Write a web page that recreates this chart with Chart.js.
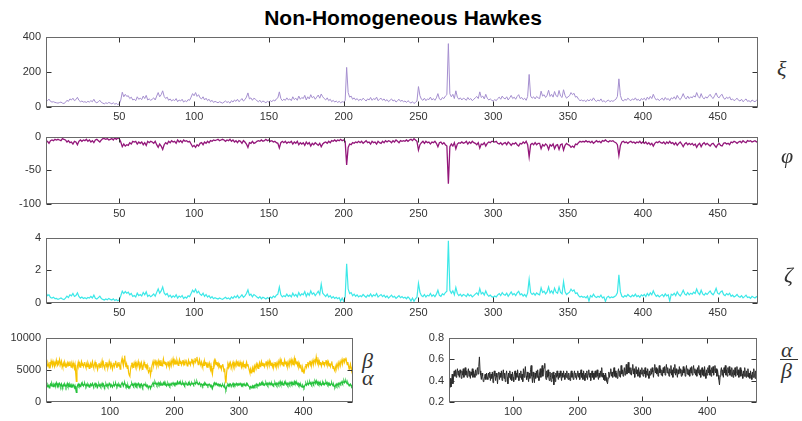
<!DOCTYPE html>
<html>
<head>
<meta charset="utf-8">
<script src="https://cdn.jsdelivr.net/npm/chart.js@4.4.1/dist/chart.umd.min.js"></script>
<style>
  html, body { margin: 0; padding: 0; background: #fff; }
  #page { position: relative; width: 802px; height: 421px; overflow: hidden; font-family: "Liberation Sans", Arial, sans-serif; }
  canvas { position: absolute; }
  .title { position: absolute; left: 0; top: 7px; width: 806px; text-align: center; font-weight: bold; font-size: 21px; line-height: 21px; color: #000; }
  .sym { position: absolute; font-family: "Liberation Serif", "Times New Roman", serif; font-style: italic; font-size: 22px; line-height: 22px; color: #333; }
  .bar { position: absolute; height: 1px; background: #333; }
</style>
</head>
<body>
<div id="page">
  <div class="title">Non-Homogeneous Hawkes</div>
  <canvas id="cXi"></canvas>
  <canvas id="cPhi"></canvas>
  <canvas id="cZeta"></canvas>
  <canvas id="cAB"></canvas>
  <canvas id="cRatio"></canvas>
  <div class="sym" style="left:777px;top:58px">ξ</div>
  <div class="sym" style="left:781px;top:145px">φ</div>
  <div class="sym" style="left:784px;top:264px">ζ</div>
  <div class="sym" style="left:362px;top:350px">β</div>
  <div class="sym" style="left:362px;top:367px">α</div>
  <div class="sym" style="left:781px;top:339px">α</div>
  <div class="bar" style="left:780px;top:359px;width:18px"></div>
  <div class="sym" style="left:781px;top:360px">β</div>
</div>
<script>
'use strict';
// ── Séries (une valeur par pas de temps, t = 1..477) ─────────────────────────

const xi = [
  42, 36, 45, 32, 28, 30, 26, 24, 22, 25, 28, 22, 20, 26, 38, 32, 46, 40, 50, 36,
  42, 55, 38, 30, 34, 28, 30, 26, 32, 28, 36, 30, 44, 28, 24, 30, 38, 26, 22, 18,
  24, 20, 26, 22, 18, 24, 16, 20, 14, 18, 40, 84, 58, 72, 60, 64, 48, 56, 40, 44,
  36, 58, 44, 50, 42, 62, 48, 66, 40, 46, 38, 44, 52, 40, 62, 82, 58, 70, 92, 60,
  48, 56, 38, 46, 34, 42, 36, 48, 30, 40, 34, 44, 28, 36, 30, 42, 38, 56, 76, 64,
  82, 60, 70, 52, 46, 58, 40, 50, 36, 44, 30, 38, 26, 32, 28, 24, 30, 26, 22, 28,
  34, 26, 30, 22, 36, 28, 40, 32, 44, 30, 38, 48, 34, 42, 56, 80, 46, 52, 38, 50,
  44, 36, 30, 38, 26, 34, 30, 24, 32, 28, 36, 30, 40, 34, 46, 52, 86, 48, 36, 44,
  38, 52, 40, 46, 36, 58, 42, 50, 38, 62, 44, 54, 48, 66, 40, 58, 46, 70, 52, 60,
  44, 56, 68, 50, 74, 58, 48, 40, 52, 36, 44, 30, 38, 28, 34, 26, 32, 24, 30, 28,
  36, 225, 82, 56, 62, 44, 52, 40, 48, 36, 44, 38, 50, 42, 34, 46, 40, 54, 38, 48,
  42, 56, 36, 44, 50, 38, 46, 34, 42, 30, 38, 46, 34, 40, 28, 36, 44, 32, 38, 30,
  34, 26, 36, 28, 22, 30, 20, 26, 34, 116, 64, 44, 38, 50, 36, 46, 42, 56, 40, 48,
  38, 52, 76, 46, 40, 54, 48, 62, 70, 360, 75, 58, 72, 48, 92, 56, 44, 52, 40, 50,
  46, 38, 54, 42, 48, 36, 44, 52, 60, 48, 86, 54, 62, 46, 72, 50, 40, 46, 38, 34,
  42, 36, 48, 56, 44, 62, 50, 46, 58, 40, 52, 66, 48, 56, 44, 60, 70, 48, 54, 42,
  50, 38, 60, 185, 62, 50, 58, 46, 60, 52, 48, 90, 62, 70, 54, 66, 95, 60, 72, 56,
  88, 64, 58, 94, 62, 54, 98, 66, 50, 58, 64, 82, 70, 78, 56, 60, 44, 36, 40, 34,
  38, 30, 42, 34, 44, 36, 52, 38, 32, 40, 34, 46, 30, 36, 28, 34, 40, 30, 36, 32,
  38, 44, 60, 160, 66, 40, 34, 44, 38, 50, 42, 36, 46, 40, 52, 38, 44, 34, 48, 42,
  50, 38, 56, 44, 60, 48, 72, 52, 40, 46, 36, 44, 50, 38, 54, 42, 48, 36, 52, 46,
  58, 44, 66, 50, 42, 56, 76, 54, 46, 62, 48, 58, 52, 64, 56, 82, 60, 50, 76, 54,
  46, 58, 50, 62, 72, 56, 48, 64, 80, 58, 52, 66, 72, 50, 44, 56, 48, 58, 40, 46,
  36, 42, 50, 38, 34, 44, 30, 38, 46, 32, 36, 28, 40, 34, 30, 38, 32
];

const phi = [
  -8, -7, -10, -6, -5, -6, -4, -5, -4, -5, -6, -3, -4, -5, -8, -6, -9, -8, -11, -7,
  -8, -12, -7, -5, -7, -5, -6, -4, -7, -5, -8, -6, -9, -5, -4, -6, -8, -5, -3, -3,
  -4, -3, -5, -4, -3, -5, -2, -4, -2, -3, -8, -15, -11, -14, -12, -13, -9, -11, -7, -8,
  -7, -11, -8, -10, -8, -12, -9, -13, -7, -9, -7, -8, -10, -7, -12, -16, -11, -14, -19, -12,
  -9, -11, -7, -9, -6, -8, -7, -10, -5, -8, -6, -9, -5, -7, -6, -8, -7, -11, -15, -13,
  -16, -12, -14, -10, -9, -12, -8, -10, -7, -9, -6, -7, -5, -6, -5, -4, -6, -5, -4, -5,
  -7, -5, -6, -4, -7, -5, -8, -6, -9, -6, -7, -10, -6, -8, -11, -16, -9, -10, -7, -10,
  -9, -7, -6, -7, -5, -7, -6, -4, -6, -5, -7, -6, -8, -7, -9, -10, -17, -9, -7, -9,
  -7, -10, -8, -9, -7, -11, -8, -10, -7, -12, -9, -11, -9, -13, -8, -11, -9, -14, -10, -12,
  -9, -11, -13, -10, -15, -11, -9, -8, -10, -7, -9, -6, -7, -5, -7, -5, -6, -4, -6, -5,
  -7, -42, -16, -11, -12, -9, -10, -8, -9, -7, -9, -7, -10, -8, -6, -9, -8, -11, -7, -9,
  -8, -11, -7, -9, -10, -7, -9, -6, -8, -6, -7, -9, -6, -8, -5, -7, -9, -6, -7, -6,
  -7, -5, -7, -5, -4, -6, -3, -5, -7, -20, -12, -9, -7, -10, -7, -9, -8, -11, -8, -9,
  -7, -10, -15, -9, -8, -11, -9, -12, -14, -70, -15, -11, -14, -9, -18, -11, -9, -10, -8, -10,
  -9, -7, -11, -8, -10, -7, -9, -10, -12, -9, -17, -11, -12, -9, -14, -10, -8, -9, -7, -7,
  -8, -7, -10, -11, -9, -12, -10, -9, -12, -8, -10, -13, -10, -11, -9, -12, -14, -10, -11, -8,
  -10, -7, -12, -30, -12, -10, -12, -9, -12, -10, -10, -18, -12, -14, -11, -13, -19, -12, -14, -11,
  -18, -13, -12, -19, -12, -11, -20, -13, -10, -12, -13, -16, -14, -16, -11, -12, -9, -7, -8, -7,
  -8, -6, -8, -7, -9, -7, -10, -8, -6, -8, -7, -9, -6, -7, -5, -7, -8, -6, -7, -6,
  -8, -9, -12, -28, -13, -8, -7, -9, -8, -10, -8, -7, -9, -8, -10, -8, -9, -7, -10, -8,
  -10, -8, -11, -9, -12, -10, -14, -10, -8, -9, -7, -9, -10, -8, -11, -8, -10, -7, -10, -9,
  -12, -9, -13, -10, -8, -11, -15, -11, -9, -12, -10, -12, -10, -13, -11, -16, -12, -10, -15, -11,
  -9, -12, -10, -12, -14, -11, -10, -13, -16, -12, -10, -13, -14, -10, -9, -11, -10, -12, -8, -9,
  -7, -8, -10, -8, -7, -9, -6, -8, -9, -6, -7, -6, -8, -7, -6, -8, -6
];

const zeta = [
  .62, .45, .50, .34, .30, .35, .27, .28, .22, .26, .31, .24, .21, .30, .42, .33, .50, .44, .58, .40,
  .46, .62, .40, .30, .36, .28, .33, .26, .34, .30, .40, .31, .48, .29, .24, .33, .42, .27, .22, .18,
  .25, .20, .28, .22, .18, .26, .15, .21, .14, .19, .44, .72, .58, .70, .60, .66, .50, .58, .40, .46,
  .37, .60, .45, .52, .43, .64, .50, .68, .40, .48, .38, .46, .55, .41, .65, .86, .60, .74, .98, .62,
  .50, .58, .38, .48, .34, .44, .36, .50, .30, .42, .35, .46, .28, .37, .30, .44, .39, .58, .78, .66,
  .84, .62, .72, .54, .47, .60, .40, .52, .36, .45, .30, .39, .26, .33, .28, .24, .31, .26, .22, .29,
  .35, .26, .31, .22, .37, .28, .42, .33, .46, .30, .39, .50, .35, .44, .58, .80, .47, .54, .38, .52,
  .45, .37, .30, .39, .26, .35, .30, .24, .33, .28, .37, .30, .42, .35, .48, .54, .98, .50, .37, .45,
  .39, .54, .41, .48, .37, .60, .43, .52, .38, .64, .45, .56, .50, .70, .41, .60, .47, .74, .54, .62,
  .45, .58, .72, .52, 1.15, .60, .50, .40, .54, .36, .45, .30, .39, .28, .35, .26, .33, .12, .30, .10,
  .37, 2.40, .86, .58, .64, .45, .54, .41, .50, .37, .45, .39, .52, .43, .35, .48, .41, .56, .39, .50,
  .43, .58, .37, .45, .52, .39, .48, .35, .43, .30, .39, .48, .35, .41, .28, .37, .45, .32, .39, .30,
  .35, .26, .37, .28, .12, .30, .10, .26, .35, 1.20, .66, .45, .39, .52, .37, .48, .43, .58, .41, .50,
  .39, .54, .78, .47, .41, .56, .50, .64, .72, 3.80, .78, .60, .74, .50, .95, .58, .45, .54, .41, .52,
  .48, .39, .56, .43, .50, .37, .45, .54, .62, .50, .88, .56, .64, .48, .74, .52, .41, .48, .39, .35,
  .43, .37, .50, .58, .45, .64, .52, .48, .60, .41, .54, .68, .50, .58, .45, .62, .72, .50, .56, .43,
  .52, .39, .62, 1.45, .64, .52, .60, .48, .62, .54, .50, .93, .64, .72, .56, .68, .98, .62, .74, .58,
  .91, .66, .60, .97, .64, .56, 1.30, .68, .52, .60, .66, .85, .72, .80, .58, .62, .45, .37, .41, .35,
  .39, .31, .43, .12, .45, .37, .54, .39, .33, .41, .35, .48, .31, .37, .10, .35, .41, .31, .37, .33,
  .39, .45, .62, 1.72, .68, .41, .35, .45, .39, .52, .43, .37, .48, .41, .54, .39, .45, .35, .50, .43,
  .52, .39, .58, .45, .62, .50, .74, .54, .41, .48, .37, .45, .52, .39, .56, .43, .50, .12, .54, .48,
  .60, .45, .68, .52, .43, .58, .78, .56, .48, .64, .50, .60, .54, .66, .58, .85, .62, .52, .78, .56,
  .48, .60, .52, .64, .74, .58, .50, .66, .90, .60, .54, .68, .74, .52, .45, .58, .50, .60, .41, .48,
  .37, .43, .52, .39, .35, .45, .31, .39, .48, .33, .37, .29, .41, .35, .31, .39, .33
];

const beta = [
  5400, 5900, 5600, 6100, 5800, 5300, 6200, 5700, 6400, 6000, 5600, 6300, 5900, 5500, 6100, 5800, 6500, 6000, 5700, 6200,
  5900, 6600, 6100, 5700, 6300, 5800, 5400, 6000, 5600, 6200, 5900, 5300, 5800, 6100, 5500, 6000, 5700, 6300, 5800, 5400,
  5900, 5500, 6100, 5600, 5200, 5800, 4600, 3200, 5000, 5700, 6200, 5600, 6000, 5400, 5900, 6300, 5700, 6100, 5500, 5800,
  6200, 5600, 5300, 5900, 5500, 6100, 5800, 5200, 5700, 6000, 5400, 5900, 6300, 5700, 5300, 5800, 6200, 5600, 5900, 5400,
  5000, 5600, 6000, 5500, 5900, 5300, 5800, 6400, 5700, 6100, 5500, 5200, 5800, 6200, 5600, 5900, 5300, 5700, 6300, 5800,
  5400, 6000, 5600, 5100, 5700, 6100, 5500, 5900, 6400, 5800, 5300, 5900, 5600, 6200, 5700, 5100, 5800, 6300, 6800, 6100,
  5600, 6500, 7200, 6000, 5400, 5900, 5200, 5700, 4600, 4200, 4000, 5000, 5600, 6100, 5500, 5900, 5300, 5800, 6200, 5600,
  6000, 5400, 5800, 6300, 5700, 5200, 5900, 5500, 6100, 5600, 5000, 5700, 6200, 5800, 5400, 5900, 5300, 5700, 5000, 4600,
  4900, 5400, 4200, 4800, 5500, 5900, 6300, 5700, 6100, 6600, 5900, 6200, 5600, 6000, 6400, 5800, 6200, 5700, 6500, 6000,
  5600, 6100, 6700, 6000, 6300, 5800, 6200, 5500, 5900, 6300, 5700, 6100, 5500, 5900, 6400, 5800, 6200, 6700, 6000, 6400,
  5800, 6300, 5900, 6500, 6100, 5700, 6200, 6600, 6000, 6400, 5800, 6100, 6500, 5900, 6300, 5700, 6200, 6600, 6000, 5600,
  6100, 6500, 5900, 6300, 5800, 6200, 6700, 6100, 6400, 5900, 6300, 6800, 6200, 6500, 7000, 6300, 5800, 6200, 6600, 6000,
  5700, 6200, 5800, 5400, 6100, 5700, 6300, 5900, 6200, 5600, 5900, 5300, 5800, 6100, 5500, 5000, 5600, 4800, 4300, 5200,
  6100, 6500, 6000, 6400, 5800, 6200, 5700, 6000, 5500, 5800, 5300, 5700, 5100, 5600, 5900, 5400, 4700, 5200, 3600, 2900,
  4500, 5300, 5800, 5400, 6000, 5600, 6100, 5700, 5300, 5900, 6200, 5600, 6000, 5500, 5900, 6300, 5800, 6100, 5600, 6000,
  5700, 6200, 5800, 5400, 6000, 5600, 6100, 5500, 5900, 5300, 5800, 6200, 5600, 5900, 5400, 5000, 4600, 5100, 4500, 4800,
  5300, 4700, 5200, 5600, 5100, 5500, 5900, 5400, 5800, 5200, 5700, 6100, 5500, 5900, 6300, 5700, 6100, 5600, 6000, 5500,
  5900, 6300, 5800, 6200, 5600, 6000, 6400, 5800, 6200, 5700, 6100, 5500, 5900, 5400, 5800, 6200, 5600, 6000, 5500, 5900,
  6300, 5700, 6100, 6600, 6000, 6400, 5800, 6200, 5600, 6000, 6500, 5900, 6300, 5700, 6100, 5500, 5900, 6400, 5800, 6200,
  6600, 6000, 6400, 5800, 6200, 6800, 6100, 6500, 5900, 6300, 5700, 6100, 5500, 5900, 5300, 5800, 5100, 4700, 5300, 4900,
  4400, 5000, 5500, 5900, 5400, 5800, 6200, 5600, 6000, 6400, 5800, 6200, 5700, 6100, 6500, 5900, 6300, 6700, 6100, 7000,
  6400, 6000, 6500, 5900, 6300, 5800, 6200, 5600, 6000, 6400, 5800, 6200, 5700, 6100, 6500, 5900, 6300, 5800, 6200, 5600,
  6000, 5500, 5900, 6300, 5700, 5200, 5600, 5000, 4800, 5400, 5800, 5300, 5700, 6100, 5500, 5900, 6300, 5800, 6200, 6600,
  6000, 6400, 6800, 6200, 6600, 6900, 6300, 5800, 6200, 5600, 5100, 5500, 5900, 5300, 5000, 5400, 5100
];

const alpha = [
  2300, 2600, 2400, 2700, 2500, 2200, 2600, 2800, 2500, 2900, 2600, 2400, 2700, 2500, 2800, 2600, 3000, 2700, 2400, 2800,
  2600, 2900, 2700, 2400, 2800, 2500, 2300, 2700, 2500, 2800, 2600, 2300, 2600, 2900, 2500, 2700, 2400, 2800, 2600, 2300,
  2600, 2400, 2700, 2500, 2200, 2500, 2000, 1500, 2200, 2600, 2800, 2500, 2700, 2400, 2600, 2900, 2600, 2800, 2500, 2700,
  2900, 2600, 2400, 2700, 2500, 2800, 2600, 2300, 2600, 2800, 2500, 2700, 2900, 2600, 2400, 2700, 2900, 2600, 2800, 2500,
  2300, 2600, 2800, 2500, 2700, 2400, 2600, 2900, 2600, 2800, 2500, 2300, 2600, 2800, 2500, 2700, 2400, 2600, 2900, 2700,
  2400, 2700, 2500, 2300, 2600, 2800, 2500, 2700, 2900, 2600, 2400, 2700, 2500, 2800, 2600, 2300, 2600, 2800, 3000, 2700,
  2500, 2800, 3000, 2700, 2400, 2600, 2300, 2600, 2200, 2400, 2300, 2500, 2700, 2900, 2600, 2800, 2500, 2700, 2900, 2600,
  2800, 2500, 2700, 2900, 2600, 2400, 2700, 2500, 2800, 2600, 2300, 2600, 2800, 2700, 2500, 2700, 2400, 2600, 2300, 2200,
  2400, 2600, 2100, 2400, 2600, 2800, 3000, 2700, 2900, 3100, 2800, 2900, 2600, 2800, 3000, 2700, 2900, 2600, 3000, 2800,
  2600, 2800, 3000, 2700, 2900, 2600, 2800, 2500, 2700, 2900, 2600, 2800, 2500, 2700, 2900, 2700, 2800, 3000, 2800, 2900,
  2700, 2900, 2700, 3000, 3200, 2800, 2900, 3100, 2800, 3000, 2700, 2800, 3000, 2700, 2900, 2600, 2800, 3000, 2800, 2600,
  2800, 3000, 2700, 2900, 2600, 2800, 3000, 2800, 2900, 2700, 2900, 3100, 2800, 3000, 3200, 2900, 2700, 2800, 3000, 2800,
  2600, 2800, 2700, 2500, 2800, 2600, 2900, 2700, 2800, 2600, 2700, 2500, 2700, 2800, 2600, 2400, 2600, 2300, 2100, 2500,
  2800, 3000, 2800, 2900, 2700, 2800, 2600, 2800, 2600, 2700, 2500, 2600, 2400, 2600, 2700, 2500, 2300, 2500, 2100, 1900,
  2300, 2600, 2700, 2500, 2800, 2600, 2800, 2600, 2500, 2700, 2900, 2600, 2800, 2600, 2700, 2900, 2700, 2800, 2600, 2800,
  2700, 2900, 2700, 2500, 2800, 2600, 2800, 2600, 2700, 2500, 2700, 2900, 2600, 2700, 2500, 2400, 2200, 2400, 2200, 2300,
  2500, 2200, 2500, 2600, 2400, 2600, 2800, 2500, 2700, 2500, 2700, 2900, 2600, 2800, 3000, 2700, 2900, 2600, 2800, 2600,
  2800, 3000, 2700, 2900, 2600, 2800, 3000, 2800, 2900, 2700, 2900, 2600, 2800, 2600, 2800, 3000, 2700, 2900, 2600, 2800,
  3000, 2700, 2900, 3200, 2800, 3000, 2700, 2900, 2600, 2800, 3100, 2800, 3000, 2700, 2900, 2600, 2800, 3000, 2700, 2900,
  3100, 2800, 3000, 2700, 2900, 3200, 2900, 3100, 2800, 3000, 2700, 2900, 2600, 2800, 2500, 2700, 2400, 2300, 2600, 2400,
  2200, 2500, 2700, 2900, 2600, 2800, 3000, 2700, 2900, 3100, 2800, 3000, 2700, 2900, 3100, 2800, 3000, 3200, 2900, 3300,
  3000, 2800, 3100, 2800, 3000, 2700, 2900, 2600, 2800, 3000, 2700, 2900, 2700, 2900, 3100, 2800, 3000, 2700, 2900, 2600,
  2800, 2600, 2800, 3000, 2700, 2500, 2700, 2400, 2300, 2600, 2800, 2500, 2700, 2900, 2600, 2800, 3000, 2800, 3000, 3200,
  2900, 3100, 3300, 3000, 3200, 3300, 3000, 2800, 3000, 2700, 2500, 2700, 2800, 2600, 2400, 2600, 2500
];

const ratio = [
  .36, .33, .42, .34, .39, .46, .37, .44, .49, .44, .50, .43, .48, .51, .45, .49, .43, .50, .47, .42,
  .49, .45, .51, .43, .48, .52, .45, .49, .43, .48, .51, .44, .49, .42, .48, .45, .51, .43, .49, .46,
  .43, .50, .45, .49, .52, .46, .53, .62, .49, .45, .41, .47, .44, .39, .40, .44, .46, .41, .47, .43,
  .41, .47, .43, .48, .40, .46, .42, .48, .38, .45, .49, .44, .40, .47, .43, .37, .46, .48, .41, .47,
  .43, .49, .40, .46, .50, .42, .47, .39, .45, .49, .43, .37, .47, .43, .49, .41, .46, .40, .48, .43,
  .39, .46, .49, .41, .47, .43, .50, .44, .40, .47, .43, .49, .41, .46, .39, .51, .43, .47, .53, .44,
  .41, .48, .43, .39, .47, .42, .50, .54, .44, .38, .48, .43, .38, .47, .42, .49, .43, .50, .44, .40,
  .47, .51, .43, .49, .54, .44, .50, .52, .56, .45, .41, .49, .43, .50, .44, .40, .48, .43, .39, .47,
  .42, .48, .36, .45, .39, .47, .43, .49, .44, .41, .47, .43, .49, .44, .40, .47, .43, .49, .45, .41,
  .47, .43, .49, .44, .41, .47, .43, .40, .46, .49, .43, .47, .41, .46, .49, .43, .47, .41, .45, .49,
  .43, .47, .41, .46, .50, .43, .47, .41, .49, .45, .40, .47, .43, .49, .41, .46, .50, .43, .47, .40,
  .45, .49, .43, .47, .41, .46, .49, .43, .47, .50, .44, .41, .47, .43, .49, .44, .52, .43, .47, .41,
  .45, .40, .47, .43, .39, .37, .42, .48, .43, .47, .51, .44, .48, .43, .47, .52, .44, .49, .43, .47,
  .42, .48, .51, .44, .49, .43, .54, .46, .50, .44, .48, .52, .45, .49, .55, .46, .50, .57, .47, .52,
  .46, .52, .45, .50, .55, .46, .51, .43, .49, .53, .46, .50, .44, .52, .48, .43, .50, .46, .52, .47,
  .44, .50, .46, .52, .43, .49, .45, .51, .46, .42, .49, .45, .51, .46, .52, .48, .43, .50, .55, .47,
  .52, .46, .51, .44, .50, .54, .47, .51, .45, .50, .44, .52, .47, .53, .45, .51, .55, .47, .52, .48,
  .44, .51, .47, .54, .45, .50, .43, .52, .47, .55, .45, .51, .47, .43, .50, .46, .53, .47, .51, .44,
  .50, .45, .53, .47, .51, .44, .50, .54, .46, .51, .45, .50, .44, .52, .47, .53, .45, .50, .54, .47,
  .51, .45, .50, .44, .52, .47, .54, .45, .50, .43, .48, .52, .45, .50, .44, .53, .47, .42, .50, .45,
  .52, .47, .54, .45, .50, .44, .52, .47, .53, .45, .50, .54, .47, .51, .44, .50, .45, .41, .36, .44,
  .49, .52, .45, .50, .43, .52, .47, .54, .45, .50, .44, .52, .47, .53, .45, .50, .44, .52, .47, .43,
  .50, .45, .52, .44, .48, .53, .45, .50, .43, .48, .52, .44, .50, .46, .42, .49, .44, .52, .46, .43,
  .49, .44, .51, .43, .47, .42, .49, .45, .41, .48, .43, .51, .45, .42, .49, .44, .54
];

// ── Graduations ─────────────────────────────────────────────────────────────
const xTicksWide   = [50, 100, 150, 200, 250, 300, 350, 400, 450];
const xTicksNarrow = [100, 200, 300, 400];
const yTicksXi     = [0, 200, 400];
const yTicksPhi    = [-100, -50, 0];
const yTicksZeta   = [0, 2, 4];
const yTicksAB     = [0, 5000, 10000];
const yTicksRatio  = [0.2, 0.4, 0.6, 0.8];

// ── Mise en page ────────────────────────────────────────────────────────────
const N = xi.length;
const Y_AXIS_W = 46, X_AXIS_H = 20, PAD = 8, TICK = 5;
const tickFont = { family: '"Liberation Sans", Arial, sans-serif', size: 11 };

// cadre fermé + graduations intérieures sur les 4 côtés
const boxAxes = {
  id: 'boxAxes',
  afterDraw(chart) {
    const { ctx, chartArea: a } = chart;
    const sx = chart.scales.x, sy = chart.scales.y;
    const L = Math.round(a.left) + .5, R = Math.round(a.right) - .5;
    const T = Math.round(a.top) + .5, B = Math.round(a.bottom) - .5;
    ctx.save();
    ctx.lineWidth = 1;
    ctx.strokeStyle = '#333';
    ctx.beginPath();
    sx.ticks.forEach(t => {
      const px = Math.round(sx.getPixelForValue(t.value)) + .5;
      ctx.moveTo(px, B); ctx.lineTo(px, B - TICK);
      ctx.moveTo(px, T); ctx.lineTo(px, T + TICK);
    });
    sy.ticks.forEach(t => {
      const py = Math.round(sy.getPixelForValue(t.value)) + .5;
      ctx.moveTo(L, py); ctx.lineTo(L + TICK, py);
      ctx.moveTo(R, py); ctx.lineTo(R - TICK, py);
    });
    ctx.stroke();
    ctx.strokeStyle = '#6a6a6a';
    ctx.strokeRect(L, T, R - L, B - T);
    ctx.restore();
  }
};

function panel(id, box, series, yMin, yMax, yTicks, xTicks) {
  const cv = document.getElementById(id);
  const left = box.l - Y_AXIS_W;
  cv.width = box.r - left + PAD;
  cv.height = box.b - box.t + PAD + X_AXIS_H;
  cv.style.left = left + 'px';
  cv.style.top = (box.t - PAD) + 'px';
  return new Chart(cv, {
    type: 'line',
    data: {
      labels: series[0].data.map((_, i) => i + 1),
      datasets: series.map(s => ({
        data: s.data, borderColor: s.color, borderWidth: s.width || 1,
        pointRadius: 0, tension: 0, fill: false
      }))
    },
    options: {
      responsive: false, animation: false, events: [],
      layout: { padding: { top: PAD, right: PAD, left: 0, bottom: 0 } },
      plugins: { legend: { display: false }, tooltip: { enabled: false } },
      scales: {
        x: {
          type: 'linear', min: 1, max: N,
          grid: { display: false, drawTicks: false }, border: { display: false },
          afterBuildTicks: s => { s.ticks = xTicks.map(v => ({ value: v })); },
          afterFit: s => { s.height = X_AXIS_H; },
          ticks: { padding: 3, maxRotation: 0, autoSkip: false, color: '#333', font: tickFont, callback: v => String(v) }
        },
        y: {
          type: 'linear', min: yMin, max: yMax,
          grid: { display: false, drawTicks: false }, border: { display: false },
          afterBuildTicks: s => { s.ticks = yTicks.map(v => ({ value: v })); },
          afterFit: s => { s.width = Y_AXIS_W; },
          ticks: { padding: 5, autoSkip: false, color: '#333', font: tickFont, callback: v => String(v) }
        }
      }
    },
    plugins: [boxAxes]
  });
}

panel('cXi',   { l: 46, t: 33, r: 758, b: 107 },  [{ data: xi,   color: '#a58fcf' }], 0, 400, yTicksXi, xTicksWide);
panel('cPhi',  { l: 46, t: 133, r: 758, b: 204 }, [{ data: phi,  color: '#93177a', width: 1.3 }], -100, 0, yTicksPhi, xTicksWide);
panel('cZeta', { l: 46, t: 234, r: 758, b: 303 }, [{ data: zeta, color: '#3ce8e8', width: 1.2 }], 0, 4, yTicksZeta, xTicksWide);
panel('cAB',   { l: 46, t: 334, r: 353, b: 402 }, [
  { data: beta,  color: '#f7c300', width: 1.2 },
  { data: alpha, color: '#25c23c', width: 1.2 }
], 0, 10000, yTicksAB, xTicksNarrow);
panel('cRatio', { l: 449, t: 334, r: 757, b: 402 }, [{ data: ratio, color: '#2b2b2b' }], 0.2, 0.8, yTicksRatio, xTicksNarrow);
</script>
</body>
</html>
